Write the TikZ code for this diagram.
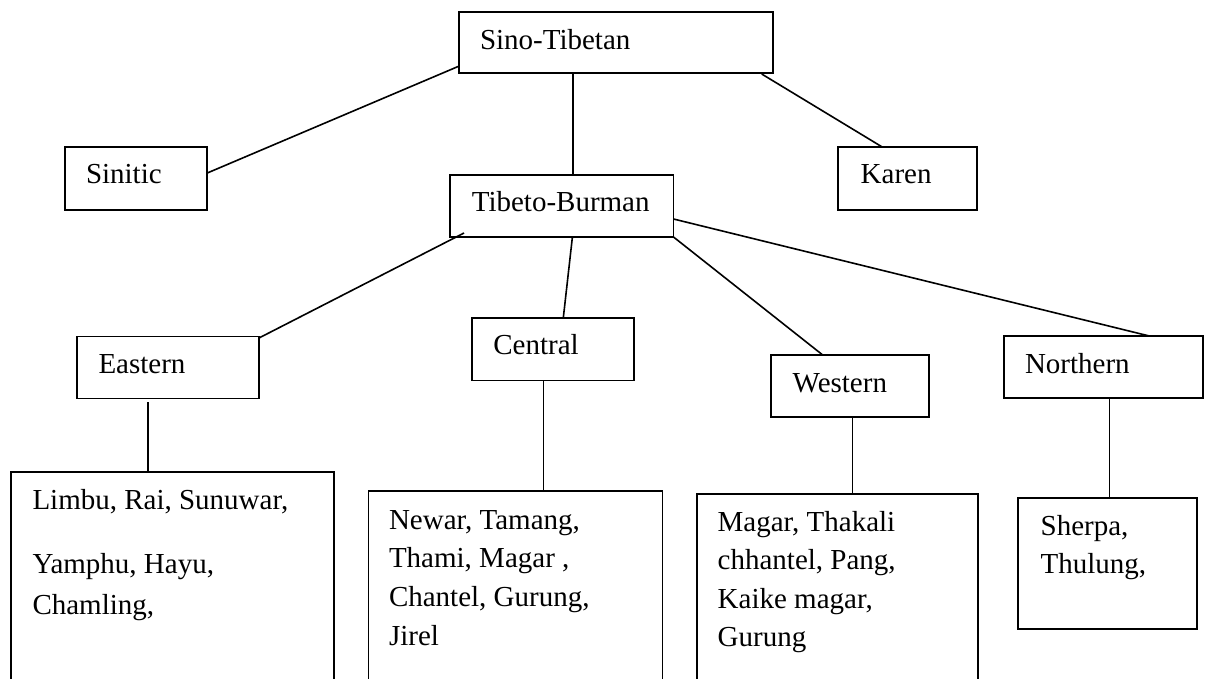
\documentclass[tikz,border=0pt]{standalone}
\usepackage{fontspec}
\setmainfont{Liberation Serif}
\begin{document}
\begin{tikzpicture}[x=1pt,y=-1pt,
  box/.style={draw, rectangle, line width=1.7pt, inner sep=0pt, outer sep=0pt},
  lbl/.style={anchor=base west, inner sep=0pt, outer sep=0pt, font=\fontsize{29}{35}\selectfont},
  link/.style={line width=1.6pt}]
\useasboundingbox (0,0) rectangle (1205,679);
\clip (0,0) rectangle (1205,679);

% family boxes
\node[box, minimum width=313.4pt, minimum height=61.3pt] (st) at (616,42.65) {};
\node[box, minimum width=142.3pt, minimum height=62.4pt] (sin) at (136.15,178.5) {};
\node[box, minimum width=138.4pt, minimum height=62.4pt] (kar) at (907.5,178.5) {};
\node[box, minimum width=223.5pt, minimum height=62pt] (tb) at (561.75,206) {};
\node[box, minimum width=182.2pt, minimum height=61.9pt] (ee) at (167.9,367.45) {};
\node[box, minimum width=161.8pt, minimum height=62.5pt] (ce) at (553.1,349.15) {};
\node[box, minimum width=158pt, minimum height=62.3pt] (we) at (850,386.15) {};
\node[box, minimum width=199pt, minimum height=62.3pt] (no) at (1103.5,367.15) {};
% language list boxes
\node[box, minimum width=323.2pt, minimum height=228.1pt] (li) at (172.4,585.95) {};
\node[box, minimum width=294pt, minimum height=209.3pt] (nw) at (515.6,595.35) {};
\node[box, minimum width=281pt, minimum height=206pt] (mg) at (837.2,597) {};
\node[box, minimum width=179pt, minimum height=130.7pt] (sh) at (1107.8,563.65) {};

% labels
\node[lbl] (tst) at (480,49.3) {Sino-Tibetan};
\node[lbl] (tsin) at (86,183.5) {Sinitic};
\node[lbl] (tkar) at (860.7,183.3) {Karen};
\node[lbl] (ttb) at (471.8,212) {Tibeto-Burman};
\node[lbl] (tee) at (98.5,373.7) {Eastern};
\node[lbl] (tce) at (493.4,354.5) {Central};
\node[lbl] (twe) at (792.7,392.7) {Western};
\node[lbl] (tno) at (1025,373.3) {Northern};

\node[lbl] (li1) at (32.5,509.2) {Limbu, Rai, Sunuwar,};
\node[lbl] (li2) at (32.5,573.8) {Yamphu, Hayu,};
\node[lbl] (li3) at (32.5,614.4) {Chamling,};

\node[lbl] (nw1) at (389,529) {Newar, Tamang,};
\node[lbl] (nw2) at (389,567.5) {Thami, Magar ,};
\node[lbl] (nw3) at (389,606) {Chantel, Gurung,};
\node[lbl] (nw4) at (389,645) {Jirel};

\node[lbl] (mg1) at (717.7,531) {Magar, Thakali};
\node[lbl] (mg2) at (717.7,569.5) {chhantel, Pang,};
\node[lbl] (mg3) at (717.7,608) {Kaike magar,};
\node[lbl] (mg4) at (717.7,646.5) {Gurung};

\node[lbl] (sh1) at (1040.7,535) {Sherpa,};
\node[lbl] (sh2) at (1040.7,573.3) {Thulung,};

% connectors
\draw[link] ([yshift=-23.35pt]st.west) -- ([yshift=5.5pt]sin.east);
\draw[link] ([xshift=-43.3pt]st.south) -- ([xshift=10.95pt]tb.north);
\draw[link] ([xshift=145.7pt,yshift=-0.7pt]st.south) -- ([xshift=-24.8pt]kar.north);
\draw[link] ([xshift=14pt,yshift=4pt]tb.south west) -- ([yshift=-1.5pt]ee.north east);
\draw[link] ([xshift=10.65pt]tb.south) -- ([xshift=10.2pt]ce.north);
\draw[link] (tb.south east) -- ([xshift=-27.3pt]we.north);
\draw[link] ([yshift=-13pt]tb.east) -- ([xshift=45.8pt]no.north);
\draw[link] ([xshift=-20pt,yshift=-3.6pt]ee.south) -- ([xshift=-24.5pt]li.north);
\draw[link] ([xshift=-9.7pt]ce.south) -- ([xshift=27.8pt]nw.north);
\draw[link] ([xshift=2.3pt]we.south) -- ([xshift=15.1pt]mg.north);
\draw[link] ([xshift=5.8pt]no.south) -- ([xshift=1.5pt]sh.north);
\end{tikzpicture}
\end{document}
